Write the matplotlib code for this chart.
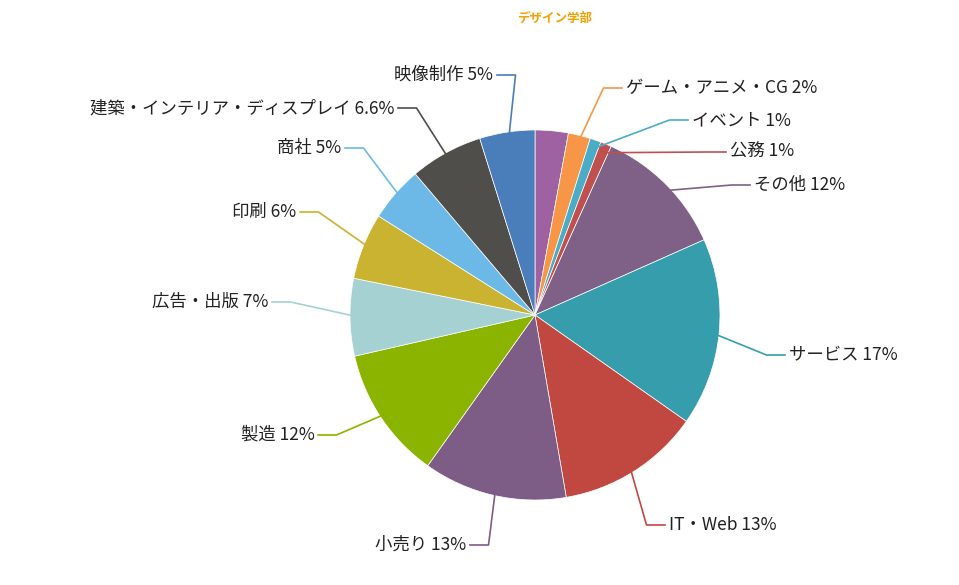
import matplotlib
matplotlib.use("Agg")
import matplotlib.pyplot as plt
import numpy as np

plt.rcParams["font.family"] = "Noto Sans CJK JP"

labels = ["", "ゲーム・アニメ・CG 2%", "イベント 1%", "公務 1%", "その他 12%", "サービス 17%",
          "IT・Web 13%", "小売り 13%", "製造 12%", "広告・出版 7%", "印刷 6%", "商社 5%",
          "建築・インテリア・ディスプレイ 6.6%", "映像制作 5%"]
values = [3, 2, 1, 1, 12, 17, 13, 13, 12, 7, 6, 5, 6.6, 5]
colors = ["#9e62a2", "#f79646", "#4bacc6", "#c0504d", "#7f6087", "#369dad",
          "#c14840", "#7d5c86", "#8ab400", "#a6d1d2", "#c9b330", "#6cb9e8",
          "#504e4a", "#4a7ebb"]
# label anchor positions in pixels (x of text edge, y centre)
label_px = [None, (622, 88), (688, 120), (726, 152), (750, 185), (785, 355),
            (665, 525), (470, 545), (318, 435), (272, 302), (300, 212),
            (345, 148), (398, 108), (497, 75)]

W, H = 959, 585
cx, cy, R = 535, 315, 185
fig = plt.figure(figsize=(W / 100, H / 100), dpi=100)
ax = fig.add_axes([0, 0, 1, 1])

wedges, _ = ax.pie(values, colors=colors, startangle=90, counterclock=False,
                   radius=1, wedgeprops=dict(edgecolor="white", linewidth=0.5))
ax.set_xlim(-cx / R, (W - cx) / R)
ax.set_ylim(-(H - cy) / R, cy / R)
ax.set_aspect("equal")
ax.axis("off")


def to_data(px, py):
    return (px - cx) / R, (cy - py) / R


for w, lab, col, pos in zip(wedges, labels, colors, label_px):
    if not lab:
        continue
    ang = np.deg2rad((w.theta1 + w.theta2) / 2)
    x0, y0 = np.cos(ang) * 0.95, np.sin(ang) * 0.95
    tx, ty = to_data(*pos)
    side = 1 if tx >= 0 else -1
    xe = tx - side * 0.1
    ax.plot([x0, xe, tx], [y0, ty, ty], color=col, lw=1.2)
    ax.text(tx + side * 0.02, ty, lab, ha="left" if side > 0 else "right",
            va="center", fontsize=12.5, color="#222222")

fig.text(555 / W, 1 - 18 / H, "デザイン学部", ha="center", va="center",
         fontsize=9, fontweight="bold", color="#f5a000")

fig.savefig("out.png", dpi=100)
